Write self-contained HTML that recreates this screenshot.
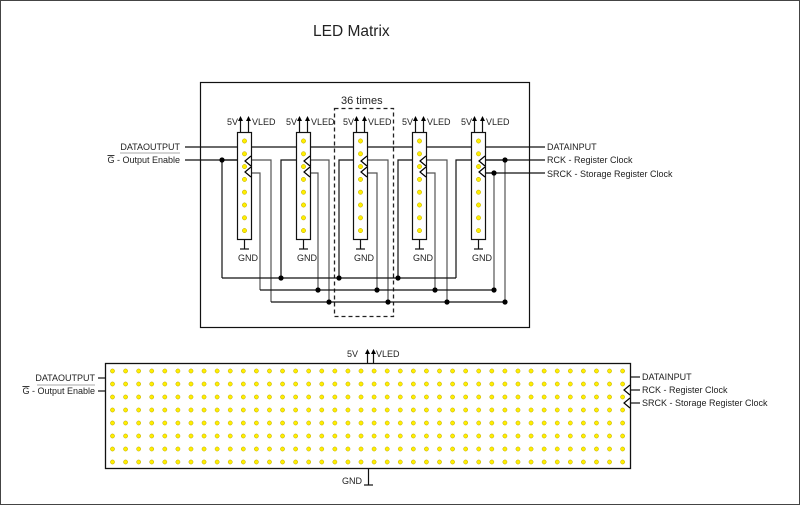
<!DOCTYPE html>
<html><head><meta charset="utf-8"><style>
html,body{margin:0;padding:0;background:#fff}
svg{display:block}
text{font-family:"Liberation Sans",Arial,sans-serif;font-size:9px;fill:#222}
</style></head><body>
<svg id="s" width="800" height="505" viewBox="0 0 800 505" xmlns="http://www.w3.org/2000/svg">
<rect x="0.5" y="0.5" width="799" height="504" fill="#fff" stroke="#444" stroke-width="1"/>
<text x="313" y="36" style="font-size:15.5px">LED Matrix</text>
<rect x="200.5" y="82.5" width="329" height="245" fill="none" stroke="#111" stroke-width="1.2"/>
<rect x="334.5" y="108.5" width="59" height="208" fill="none" stroke="#222" stroke-width="1.3" stroke-dasharray="4,3"/>
<text x="341" y="104" style="font-size:11px">36 times</text>
<g id="wires" fill="none" stroke-width="1.2"></g>
<g id="up"></g>
<g id="bot"></g>
</svg>
<script>
const NS="http://www.w3.org/2000/svg";
function el(p,t,a,txt){const e=document.createElementNS(NS,t);for(const k in a)e.setAttribute(k,a[k]);if(txt!==undefined)e.textContent=txt;document.getElementById(p).appendChild(e);return e;}
function ln(p,pts,c){el(p,'polyline',{points:pts,stroke:c||'#111',fill:'none','stroke-width':1.2});}
function dot(p,x,y){el(p,'circle',{cx:x,cy:y,r:2.6,fill:'#000'});}
// main lines
ln('wires','185,147 545,147');
ln('wires','185,160 237,160');
const gx=[222,281,339,398,456];
const sx=[260,318,377,435,494];
const rx=[271,329,388,447,505];
const strips=[237,296,353,412,471];
for(let i=0;i<5;i++){
 ln('wires',gx[i]+',278 '+gx[i]+',160 '+strips[i]+',160');
 ln('wires',(strips[i]+14)+',173 '+sx[i]+',173 '+sx[i]+',290','#555');
 ln('wires',(strips[i]+14)+',160 '+rx[i]+',160 '+rx[i]+',302','#555');
}
ln('wires','222,278 456,278');
ln('wires','260,290 494,290');
ln('wires','271,302 505,302');
ln('wires','486,160 545,160');ln('wires','486,173 545,173');
dot('wires',222,160);
for(let i=1;i<4;i++){dot('wires',gx[i],278);}
for(let i=1;i<5;i++){dot('wires',sx[i],290);dot('wires',rx[i],302);}
dot('wires',494,173);dot('wires',505,160);
// strips
function arrow(p,x,yTop,yBot){ln(p,x+','+yBot+' '+x+','+(yTop+3));el(p,'polygon',{points:(x-2.5)+','+(yTop+5)+' '+x+','+yTop+' '+(x+2.5)+','+(yTop+5),fill:'#000'});}
function chev(p,x,y){el(p,'polyline',{points:x+','+(y-5)+' '+(x-6)+','+y+' '+x+','+(y+5),fill:'none',stroke:'#000','stroke-width':1.2});}
strips.forEach(x=>{
 el('up','rect',{x:x+0.5,y:132.5,width:14,height:107,fill:'#fff',stroke:'#111','stroke-width':1.2});
 for(let k=0;k<8;k++)el('up','circle',{cx:x+7.5,cy:141+k*12.8,r:2.2,fill:'#ffee00',stroke:'#bba800','stroke-width':0.5});
 chev('up',x+14,161);chev('up',x+14,172);
 arrow('up',x+3.5,116,132);arrow('up',x+11.5,116,132);
 el('up','text',{x:x-10,y:125},'5V');el('up','text',{x:x+15,y:125},'VLED');
 ln('up',(x+7.5)+',240 '+(x+7.5)+',249');ln('up',(x+3)+',249 '+(x+12)+',249');
 el('up','text',{x:x+1,y:261},'GND');
});
el('up','text',{x:180,y:150,'text-anchor':'end'},'DATAOUTPUT');
const g=el('up','text',{x:180,y:163,'text-anchor':'end'});g.innerHTML='<tspan text-decoration="overline">G</tspan> - Output Enable';
el('up','line',{x1:120,y1:153,x2:180,y2:153,stroke:'#555','stroke-width':0.6});
el('up','text',{x:547,y:150},'DATAINPUT');
el('up','text',{x:547,y:163},'RCK - Register Clock');
el('up','text',{x:547,y:177},'SRCK - Storage Register Clock');
// bottom
el('bot','rect',{x:105.5,y:363.5,width:525,height:105,fill:'#fff',stroke:'#111','stroke-width':1.3});
for(let r=0;r<8;r++)for(let c=0;c<40;c++)el('bot','circle',{cx:112.5+c*13.08,cy:371+r*13,r:2.1,fill:'#ffee00',stroke:'#bba800','stroke-width':0.5});
arrow('bot',367.5,349,363);arrow('bot',373.5,349,363);
el('bot','text',{x:347,y:357},'5V');el('bot','text',{x:376,y:357},'VLED');
ln('bot','368.5,469 368.5,485');ln('bot','364,485 373,485');
el('bot','text',{x:342,y:484},'GND');
ln('bot','98,378 105,378');ln('bot','98,391 105,391');
el('bot','text',{x:95,y:381,'text-anchor':'end'},'DATAOUTPUT');
const g2=el('bot','text',{x:95,y:394,'text-anchor':'end'});g2.innerHTML='<tspan text-decoration="overline">G</tspan> - Output Enable';
el('bot','line',{x1:37,y1:385,x2:95,y2:385,stroke:'#555','stroke-width':0.6});
chev('bot',630,390);chev('bot',630,403);
ln('bot','631,377 640,377');ln('bot','630,390 640,390');ln('bot','630,403 640,403');
el('bot','text',{x:642,y:380},'DATAINPUT');
el('bot','text',{x:642,y:393},'RCK - Register Clock');
el('bot','text',{x:642,y:406},'SRCK - Storage Register Clock');
</script>
</body></html>
